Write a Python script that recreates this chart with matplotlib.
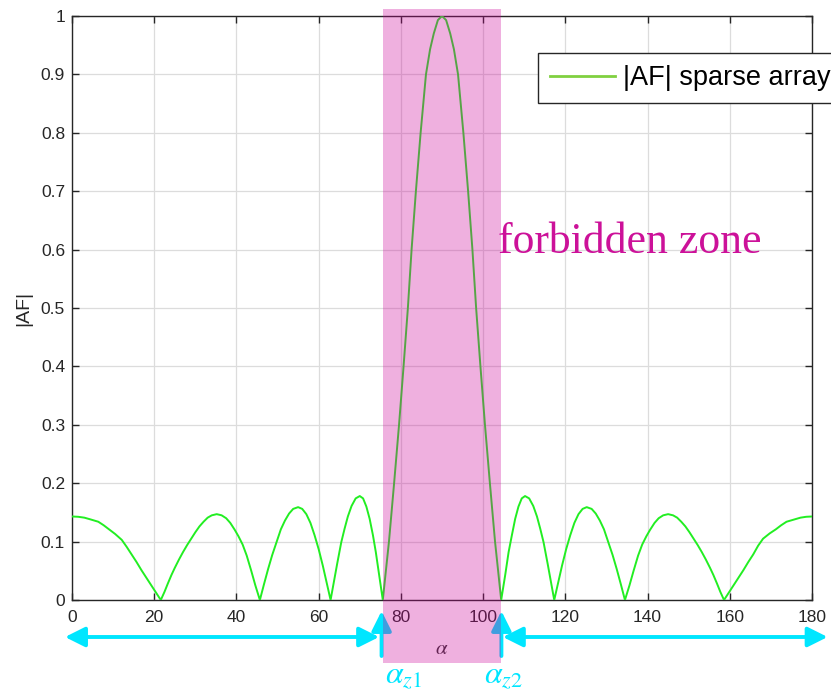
import matplotlib.pyplot as plt
import matplotlib.transforms as mtransforms
from matplotlib.patches import Rectangle
from matplotlib.lines import Line2D

# |AF| (angle in degrees, normalised magnitude), lobe by lobe
angle = [0, 1.5, 3, 4.5, 6.4, 7.7, 9, 10.5, 12.1, 13.3, 14.5, 15.7, 16.9, 18.1, 19.3, 20.5, 21.6,
         22.5, 23.3, 24.2, 25, 26, 27, 28, 29, 30, 31, 32, 33, 34, 35.2, 36.4, 37.5, 38.5,
         39.6, 40.5, 41.5, 42.5, 43.6, 44.6, 45.7,
         46.7, 47.7, 48.7, 49.8, 50.8, 51.8, 52.8, 53.8, 55, 56, 57, 58, 59, 60, 61, 62, 62.9,
         63.7, 64.5, 65.5, 66.3, 67.1, 68, 69, 70, 70.8, 71.6, 72.4, 73.2, 73.9, 74.7, 75.6,
         77.1, 78.35, 79.55, 80.65, 81.7, 82.6, 83.65, 84.8, 86.1, 87.1, 88, 89, 90,
         91, 92, 92.9, 93.9, 95.2, 96.35, 97.4, 98.3, 99.35, 100.45, 101.65, 102.9, 104.4,
         105.4, 106.2, 107, 107.8, 108.6, 109.4, 110.2, 111.2, 112.2, 113.1, 113.9, 114.7,
         115.7, 116.5, 117.3,
         118.2, 119.2, 120.2, 121.2, 122.2, 123.2, 124.2, 125.2, 126.4, 127.4, 128.4, 129.4,
         130.4, 131.5, 132.5, 133.5, 134.5,
         135.6, 136.6, 137.7, 138.7, 139.7, 140.6, 141.7, 142.7, 143.8, 145, 146.2, 147.2,
         148.2, 149.2, 150.2, 151.2, 152.2, 153.2, 154.2, 155.2, 156, 156.9, 157.7, 158.6,
         159.7, 160.9, 162.1, 163.3, 164.5, 165.7, 166.9, 168.1, 169.7, 171.2, 172.5, 173.8,
         175.7, 177.2, 178.6, 180]
af = [0.143, 0.1425, 0.141, 0.138, 0.134, 0.128, 0.121, 0.113, 0.103, 0.091, 0.078, 0.065, 0.051,
      0.038, 0.025, 0.012, 0.0,
      0.014, 0.028, 0.043, 0.055, 0.069, 0.082, 0.094, 0.105, 0.116, 0.126, 0.134, 0.141, 0.145,
      0.147, 0.145, 0.140, 0.132, 0.120, 0.109, 0.095, 0.076, 0.050, 0.025, 0.0,
      0.027, 0.053, 0.077, 0.100, 0.121, 0.136, 0.148, 0.156, 0.159, 0.156, 0.147, 0.132, 0.111,
      0.087, 0.059, 0.028, 0.0,
      0.031, 0.062, 0.099, 0.122, 0.143, 0.161, 0.174, 0.178, 0.174, 0.160, 0.139, 0.111, 0.082,
      0.044, 0.0,
      0.1, 0.2, 0.3, 0.4, 0.5, 0.6, 0.7, 0.8, 0.9, 0.943, 0.97, 0.993, 1.0,
      0.993, 0.97, 0.943, 0.9, 0.8, 0.7, 0.6, 0.5, 0.4, 0.3, 0.2, 0.1, 0.0,
      0.044, 0.082, 0.111, 0.139, 0.160, 0.174, 0.178, 0.174, 0.161, 0.143, 0.122, 0.099,
      0.062, 0.031, 0.0,
      0.028, 0.059, 0.087, 0.111, 0.132, 0.147, 0.156, 0.159, 0.156, 0.148, 0.136, 0.121,
      0.100, 0.077, 0.053, 0.027, 0.0,
      0.025, 0.050, 0.076, 0.095, 0.109, 0.120, 0.132, 0.140, 0.145, 0.147, 0.145, 0.141,
      0.134, 0.126, 0.116, 0.105, 0.094, 0.082, 0.069, 0.055, 0.043, 0.028, 0.014, 0.0,
      0.012, 0.025, 0.038, 0.051, 0.065, 0.078, 0.093, 0.105, 0.114, 0.121, 0.128, 0.134,
      0.138, 0.141, 0.1425, 0.143]

alpha_z1 = 75.6
alpha_z2 = 104.4

xticks = list(range(0, 181, 20))
yticks = [0, 0.1, 0.2, 0.3, 0.4, 0.5, 0.6, 0.7, 0.8, 0.9, 1]
ytick_labels = ['0', '0.1', '0.2', '0.3', '0.4', '0.5', '0.6', '0.7', '0.8', '0.9', '1']

plt.rcParams['font.family'] = ['Liberation Sans', 'DejaVu Sans']
dark = '#262626'
cyan = '#00e6ff'

fig = plt.figure(figsize=(8.31, 6.94), dpi=100)
ax = fig.add_axes([72 / 831, 1 - 600 / 694, 740 / 831, 584 / 694])

ax.plot(angle, af, color='#22ee22', lw=1.4, zorder=3)

ax.set_xlim(0, 180)
ax.set_ylim(0, 1)
ax.set_xticks(xticks)
ax.set_yticks(yticks)
ax.set_yticklabels(ytick_labels)
ax.tick_params(direction='in', length=5, top=True, right=True,
               labelsize=12.5, colors=dark, width=1)
ax.tick_params(axis='y', pad=5)
ax.tick_params(axis='x', pad=7)
ax.grid(True, color='#dcdcdc', lw=0.9)
ax.set_axisbelow(True)
for s in ax.spines.values():
    s.set_color(dark)
    s.set_linewidth(1)
ax.set_ylabel('|AF|', fontsize=14, color=dark)
ax.yaxis.set_label_coords(-0.054, 0.5)

# legend, partly outside the axes as in the reference
handle = Line2D([], [], color='#80d040', lw=2)
leg = fig.legend([handle], ['|AF| sparse array'], loc='upper left',
                 bbox_to_anchor=(538 / 831, 1 - 53 / 694), borderaxespad=0,
                 fontsize=19.5, fancybox=False, framealpha=1, edgecolor=dark,
                 handlelength=2.4, handletextpad=0.3, borderpad=0.45)
leg.get_frame().set_linewidth(1)

# forbidden zone overlay (x in data units, y in figure units)
blend = mtransforms.blended_transform_factory(ax.transData, fig.transFigure)
y_bot = 1 - 663 / 694
y_top = 1 - 9 / 694
zone = Rectangle((alpha_z1, y_bot), alpha_z2 - alpha_z1, y_top - y_bot,
                 transform=blend, facecolor='#cc0099', alpha=0.31,
                 edgecolor='none', zorder=10)
fig.patches.append(zone)

fig.text(498 / 831, 1 - 253 / 694, 'forbidden zone', family='Liberation Serif',
         fontsize=31.5, color='#cc1199', ha='left', va='baseline')

# arrows under the axis
y_arr = 1 - 637 / 694
arr = dict(arrowstyle='<|-|>,head_length=1.2,head_width=0.6', color=cyan,
           lw=2.8, shrinkA=0, shrinkB=0)
ax.annotate('', xy=(-1.7, y_arr), xytext=(alpha_z1 - 0.9, y_arr),
            xycoords=blend, textcoords=blend, arrowprops=arr,
            annotation_clip=False)
ax.annotate('', xy=(alpha_z2 + 0.4, y_arr), xytext=(183.8, y_arr),
            xycoords=blend, textcoords=blend, arrowprops=arr,
            annotation_clip=False)
up = dict(arrowstyle='-|>,head_length=1.2,head_width=0.6', color=cyan,
          lw=2.8, shrinkA=0, shrinkB=0)
for xa in [alpha_z1 - 0.3, alpha_z2 + 0.05]:
    ax.annotate('', xy=(xa, 1 - 611 / 694), xytext=(xa, 1 - 656 / 694),
                xycoords=blend, textcoords=blend, arrowprops=up,
                annotation_clip=False)

ax.text(90, 1 - 649 / 694, r'$\alpha$', transform=blend, fontsize=15,
        color='#333333', ha='center', va='center', math_fontfamily='stix')
ax.text(alpha_z1 + 0.6, 1 - 676 / 694, r'$\alpha_{z1}$', transform=blend,
        fontsize=23, color=cyan, ha='left', va='center', math_fontfamily='stix')
ax.text(alpha_z2 - 4.3, 1 - 676 / 694, r'$\alpha_{z2}$', transform=blend,
        fontsize=23, color=cyan, ha='left', va='center', math_fontfamily='stix')

fig.savefig('out.png', dpi=100)
